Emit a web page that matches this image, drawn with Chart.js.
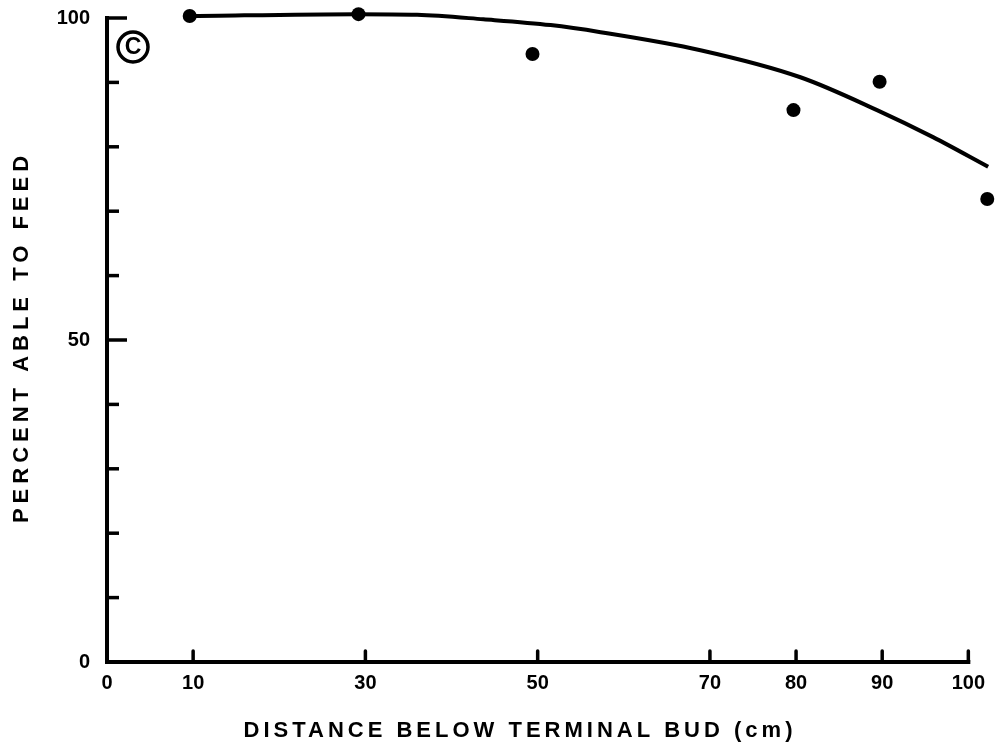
<!DOCTYPE html>
<html>
<head>
<meta charset="utf-8">
<title>Percent able to feed</title>
<script src="https://cdn.jsdelivr.net/npm/chart.js@4.4.1/dist/chart.umd.min.js"></script>
<style>
    html, body { margin: 0; padding: 0; background: #ffffff; }
    #feedChart { display: block; }
</style>
</head>
<body>
<canvas id="feedChart" width="996" height="752"></canvas>
<script>
// Observed points (distance below terminal bud in cm, percent able to feed)
const distances = [9.6, 29.2, 49.4, 69.2, 79.7, 89.7, 102.2];
const percentFeed = [100.3, 100.6, 94.4, 101.4, 85.7, 90.1, 71.9];

// Hand-drawn fitted curve
const curveX = [9.4, 29.0, 36.0, 43.7, 51.5, 57.3, 68.9, 80.5, 89.4, 95.9, 102.3];
const curveY = [100.3, 100.6, 100.5, 99.8, 98.9, 97.8, 95.0, 90.8, 85.7, 81.5, 76.9];

// Axis ticks
const xTickValues = [0, 10, 30, 50, 70, 80, 90, 100];
const yTickValues = [10, 20, 30, 40, 50, 60, 70, 80, 90, 100];
const yLabelValues = [0, 50, 100];

const xTitle = 'DISTANCE BELOW TERMINAL BUD (cm)';
const yTitle = 'PERCENT ABLE TO FEED';
const panelLetter = 'C';

const fontFamily = "'Liberation Sans', Arial, Helvetica, sans-serif";
const ink = '#000000';

// Axes, tick marks, titles and the panel letter
const axesPlugin = {
    id: 'paperAxes',
    afterDatasetsDraw(chart) {
        const ctx = chart.ctx;
        const xs = chart.scales.x;
        const ys = chart.scales.y;
        const x0 = xs.getPixelForValue(0);
        const y0 = ys.getPixelForValue(0);

        ctx.save();
        ctx.strokeStyle = ink;
        ctx.fillStyle = ink;

        // axis lines
        ctx.lineWidth = 4;
        ctx.lineCap = 'square';
        ctx.beginPath();
        ctx.moveTo(x0, ys.getPixelForValue(100));
        ctx.lineTo(x0, y0);
        ctx.lineTo(xs.getPixelForValue(100), y0);
        ctx.stroke();

        // y ticks point inward
        ctx.lineWidth = 3.5;
        ctx.lineCap = 'butt';
        yTickValues.forEach(v => {
            const y = ys.getPixelForValue(v);
            const len = v % 50 === 0 ? 20 : 12;
            ctx.beginPath();
            ctx.moveTo(x0, y);
            ctx.lineTo(x0 + len, y);
            ctx.stroke();
        });

        // x ticks point upward
        ctx.lineCap = 'round';
        xTickValues.filter(v => v > 0).forEach(v => {
            const x = xs.getPixelForValue(v);
            ctx.beginPath();
            ctx.moveTo(x, y0);
            ctx.lineTo(x, y0 - 11);
            ctx.stroke();
        });

        // panel letter in a circle
        ctx.lineWidth = 3.5;
        ctx.beginPath();
        ctx.arc(133, 47, 15, 0, Math.PI * 2);
        ctx.stroke();
        ctx.font = 'bold 23px ' + fontFamily;
        ctx.textAlign = 'center';
        ctx.textBaseline = 'middle';
        ctx.fillText(panelLetter, 133, 48);

        // axis titles with the wide tracking of the original
        ctx.font = 'bold 22px ' + fontFamily;
        ctx.letterSpacing = '4px';
        ctx.fillText(xTitle, 520, 731);

        ctx.translate(22, 337);
        ctx.rotate(-Math.PI / 2);
        ctx.letterSpacing = '5px';
        ctx.fillText(yTitle, 0, 0);
        ctx.restore();
    }
};

function initFeedChart() {
    const ctx = document.getElementById('feedChart');
    if (!ctx) return;

    const data = {
        datasets: [
            {
                label: 'Fitted',
                type: 'line',
                data: curveX.map((x, i) => ({ x: x, y: curveY[i] })),
                borderColor: ink,
                borderWidth: 4,
                pointRadius: 0,
                cubicInterpolationMode: 'monotone',
                fill: false,
                clip: false
            },
            {
                label: 'Observed',
                type: 'scatter',
                data: distances.map((x, i) => ({ x: x, y: percentFeed[i] })),
                backgroundColor: ink,
                borderColor: ink,
                borderWidth: 0,
                pointRadius: 7,
                clip: false
            }
        ]
    };

    const tickFont = { family: fontFamily, size: 20, weight: 'bold' };

    const config = {
        type: 'scatter',
        data: data,
        options: {
            responsive: false,
            animation: false,
            events: [],
            layout: {
                padding: { top: 18, right: 2, bottom: 0, left: 0 }
            },
            plugins: {
                legend: { display: false },
                tooltip: { enabled: false }
            },
            scales: {
                x: {
                    type: 'linear',
                    min: 0,
                    max: 102.4,
                    grid: { display: false, drawTicks: false },
                    border: { display: false },
                    afterBuildTicks: scale => {
                        scale.ticks = xTickValues.map(v => ({ value: v }));
                    },
                    afterFit: scale => {
                        scale.height = 90;
                        scale.paddingLeft = 0;
                        scale.paddingRight = 0;
                    },
                    ticks: {
                        color: ink,
                        font: tickFont,
                        padding: 9,
                        maxRotation: 0,
                        autoSkip: false
                    }
                },
                y: {
                    type: 'linear',
                    min: 0,
                    max: 100,
                    grid: { display: false, drawTicks: false },
                    border: { display: false },
                    afterBuildTicks: scale => {
                        scale.ticks = yLabelValues.map(v => ({ value: v }));
                    },
                    afterFit: scale => {
                        scale.width = 107;
                        scale.paddingTop = 0;
                        scale.paddingBottom = 0;
                    },
                    ticks: {
                        color: ink,
                        font: tickFont,
                        padding: 17
                    }
                }
            }
        },
        plugins: [axesPlugin]
    };

    window.feedChartInstance = new Chart(ctx, config);
}

document.addEventListener('DOMContentLoaded', initFeedChart);
</script>
</body>
</html>
